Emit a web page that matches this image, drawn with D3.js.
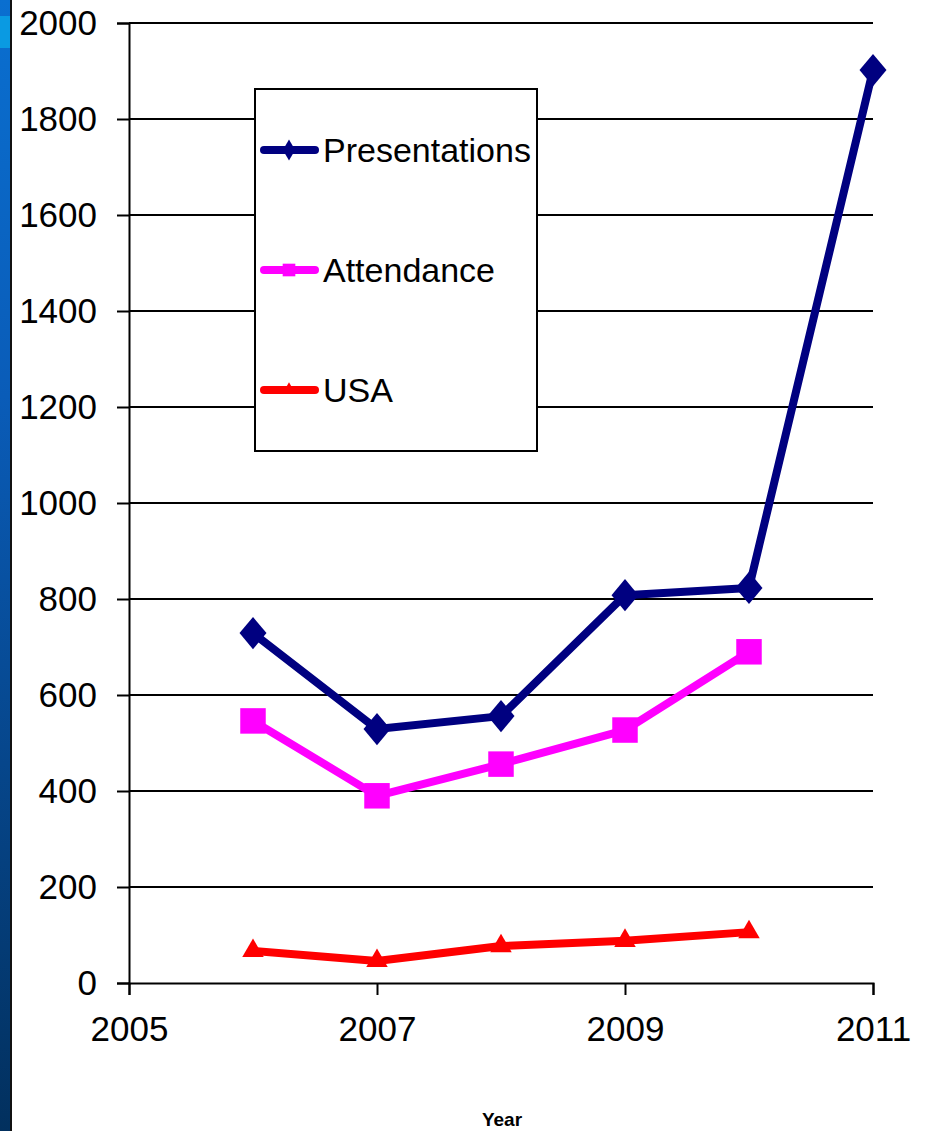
<!DOCTYPE html>
<html>
<head>
<meta charset="utf-8">
<script src="https://cdn.jsdelivr.net/npm/d3@7"></script>
<style>
  html, body { margin: 0; padding: 0; background: #fff; }
  svg { display: block; font-family: "Liberation Sans", Arial, sans-serif; }
</style>
</head>
<body>
<svg id="chart" width="927" height="1131"></svg>
<script>
// Yearly counts
const years = [2006, 2007, 2008, 2009, 2010, 2011];
const presentations = [729, 529, 556, 808, 823, 1902];
const attendance = [546, 390, 456, 527, 690];
const usa = [67, 46, 77, 88, 106];
const yTicks = [0, 200, 400, 600, 800, 1000, 1200, 1400, 1600, 1800, 2000];
const xTicks = [2005, 2007, 2009, 2011];
const seriesNames = ["Presentations", "Attendance", "USA"];

const svg = d3.select("#chart");

// slide edge strip on the left
const defs = svg.append("defs");
const grad = defs.append("linearGradient").attr("id", "edge").attr("x1", 0).attr("y1", 0).attr("x2", 0).attr("y2", 1);
grad.append("stop").attr("offset", "0").attr("stop-color", "#0a6fd0");
grad.append("stop").attr("offset", "0.35").attr("stop-color", "#0a5cb8");
grad.append("stop").attr("offset", "1").attr("stop-color", "#02305e");
svg.append("rect").attr("x", 0).attr("y", 0).attr("width", 11).attr("height", 1131).attr("fill", "url(#edge)");
svg.append("rect").attr("x", 0).attr("y", 16).attr("width", 11).attr("height", 32).attr("fill", "#0a9ae2");
svg.append("rect").attr("x", 10).attr("y", 0).attr("width", 2).attr("height", 1131).attr("fill", "#111");

const x = d3.scaleLinear().domain([2005, 2011]).range([129, 873]);
const y = d3.scaleLinear().domain([0, 2000]).range([983, 23]);

// gridlines
svg.append("g").selectAll("line").data(yTicks.filter(d => d > 0)).join("line")
  .attr("x1", x(2005)).attr("x2", x(2011))
  .attr("y1", d => y(d)).attr("y2", d => y(d))
  .attr("stroke", "#000").attr("stroke-width", 2);

// y axis
const yAxis = svg.append("g").attr("transform", `translate(${x(2005)},0)`)
  .call(d3.axisLeft(y).tickValues(yTicks).tickSize(12).tickPadding(20).tickFormat(d3.format("d")));
yAxis.select(".domain").attr("stroke", "#000").attr("stroke-width", 2);
yAxis.selectAll(".tick line").attr("stroke", "#000").attr("stroke-width", 2);
yAxis.selectAll(".tick text").attr("font-size", 35).attr("fill", "#000").attr("font-family", "Liberation Sans, Arial, sans-serif");

// x axis
const xAxis = svg.append("g").attr("transform", `translate(0,${y(0)})`)
  .call(d3.axisBottom(x).tickValues(xTicks).tickSize(12).tickPadding(21).tickFormat(d3.format("d")));
xAxis.select(".domain").attr("stroke", "#000").attr("stroke-width", 2);
xAxis.selectAll(".tick line").attr("stroke", "#000").attr("stroke-width", 2);
xAxis.selectAll(".tick text").attr("font-size", 35).attr("fill", "#000").attr("font-family", "Liberation Sans, Arial, sans-serif");

svg.append("text").attr("x", 502).attr("y", 1126).attr("text-anchor", "middle")
  .attr("font-size", 19).attr("font-weight", "bold").attr("fill", "#000").text("Year");

const series = [
  { name: seriesNames[0], values: presentations, color: "#000080", symbol: d3.symbolDiamond, size: 300 },
  { name: seriesNames[1], values: attendance, color: "#ff00ff", symbol: d3.symbolSquare, size: 650 },
  { name: seriesNames[2], values: usa, color: "#ff0000", symbol: d3.symbolTriangle, size: 200 }
];

const line = d3.line().x((d, i) => x(years[i])).y(d => y(d));

series.forEach(s => {
  svg.append("path").datum(s.values).attr("d", line)
    .attr("fill", "none").attr("stroke", s.color).attr("stroke-width", 8).attr("stroke-linejoin", "round");
  const sym = d3.symbol().type(s.symbol).size(s.size);
  svg.append("g").selectAll("path").data(s.values).join("path")
    .attr("transform", (d, i) => `translate(${x(years[i])},${y(d)})` + (s.symbol === d3.symbolDiamond ? " scale(1.45,1)" : ""))
    .attr("d", sym()).attr("fill", s.color);
});

// legend
const legend = svg.append("g");
legend.append("rect").attr("x", 255).attr("y", 89).attr("width", 282).attr("height", 362)
  .attr("fill", "#fff").attr("stroke", "#000").attr("stroke-width", 2);
const legendY = [150, 270, 390];
series.forEach((s, i) => {
  const g = legend.append("g").attr("transform", `translate(0,${legendY[i]})`);
  g.append("line").attr("x1", 264).attr("x2", 315).attr("y1", 0).attr("y2", 0)
    .attr("stroke", s.color).attr("stroke-width", 8).attr("stroke-linecap", "round");
  const legendSize = s.symbol === d3.symbolSquare ? 160 : s.symbol === d3.symbolDiamond ? 130 : 80;
  g.append("path").attr("transform", "translate(289,0)").attr("d", d3.symbol().type(s.symbol).size(legendSize)()).attr("fill", s.color);
  g.append("text").attr("x", 323).attr("y", 12).attr("font-size", 34).attr("fill", "#000").text(s.name);
});
</script>
</body>
</html>
